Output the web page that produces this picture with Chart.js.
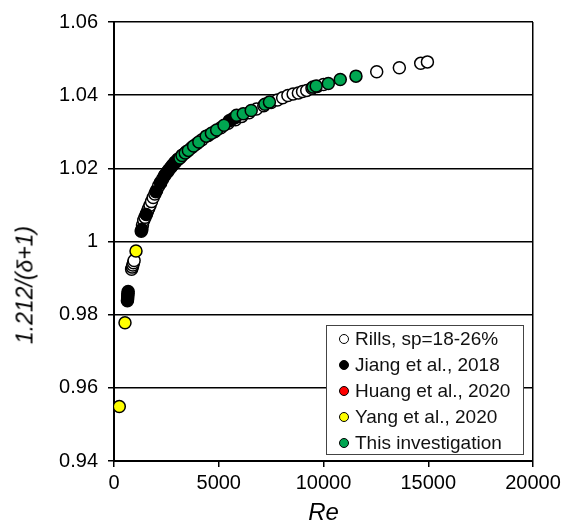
<!DOCTYPE html>
<html>
<head>
<meta charset="utf-8">
<script src="https://cdn.jsdelivr.net/npm/chart.js@4"></script>
<style>
  body { margin: 0; background: #fff; }
  #wrap { position: relative; width: 566px; height: 524px; font-family: "Liberation Sans", Arial, sans-serif; }
  #ytitle {
    position: absolute; left: 25px; top: 285px;
    transform: translate(-50%, -50%) rotate(-90deg);
    font-size: 23px; font-style: italic; white-space: nowrap; color: #000;
  }
  #legend {
    position: absolute; left: 326px; top: 325px; width: 196px; height: 128px;
    border: 1.5px solid #444; background: #fff;
  }
  .row { position: absolute; left: 0; height: 26px; line-height: 26px; font-size: 19px; color: #111; white-space: nowrap; }
  .dot { position: absolute; left: 12px; top: 8px; width: 8px; height: 8px; border: 1.3px solid #000; border-radius: 50%; }
  .lbl { position: absolute; left: 28px; top: 0; }
</style>
</head>
<body>
<div id="wrap">
  <canvas id="chart" width="566" height="524"></canvas>
  <div id="ytitle">1.212/(δ+1)</div>
  <div id="legend"></div>
</div>
<script>
// Data: [Re, 1.212/(δ+1)]
const seriesNames = ['Rills, sp=18-26%', 'Jiang et al., 2018', 'Huang et al., 2020', 'Yang et al., 2020', 'This investigation'];
const seriesColors = ['#ffffff', '#000000', '#ff0000', '#ffff00', '#00a651'];

const rills = [
  [840, 0.9924], [870, 0.9930], [900, 0.9936], [930, 0.9942], [960, 0.9948],
  [1360, 1.0045], [1420, 1.0058], [1480, 1.0066], [1540, 1.0075], [1600, 1.0083],
  [1660, 1.0091], [1720, 1.0099], [1790, 1.0109], [1870, 1.0120], [1950, 1.0130],
  [2040, 1.0141], [2130, 1.0152], [2220, 1.0162], [2320, 1.0171], [2450, 1.0183],
  [2600, 1.0195], [2750, 1.0205], [2900, 1.0216], [3050, 1.0225], [3250, 1.0236],
  [3450, 1.0245], [3700, 1.0256], [3950, 1.0267], [4200, 1.0278], [4500, 1.0290],
  [4800, 1.0300], [5100, 1.0311], [5450, 1.0323], [5800, 1.0333], [6100, 1.0342],
  [6450, 1.0352], [6800, 1.0362], [7150, 1.0371], [7500, 1.0380], [7800, 1.0387],
  [8050, 1.0393], [8300, 1.0399], [8550, 1.0403], [8800, 1.0406], [9000, 1.0410],
  [9200, 1.0413], [9450, 1.0419], [9700, 1.0424], [10000, 1.0429],
  [12540, 1.0464], [13620, 1.0475], [14640, 1.0487], [14960, 1.0491]
];
const jiang = [
  [640, 0.9838], [650, 0.9843], [655, 0.9848], [660, 0.9853], [668, 0.9858], [675, 0.9863],
  [1300, 1.0028], [1330, 1.0033], [1540, 1.0074],
  [2000, 1.0136], [2230, 1.0160], [2400, 1.0179],
  [2550, 1.0190], [2680, 1.0200], [2800, 1.0209], [2930, 1.0217], [3050, 1.0224],
  [5500, 1.0330], [5650, 1.0335], [5800, 1.0339]
];
const huang = [];
const yang = [[253, 0.9549], [525, 0.9778], [1050, 0.9974]];
const thisStudy = [
  [3150, 1.0228], [3250, 1.0235], [3400, 1.0242], [3550, 1.0249], [3800, 1.0261],
  [4050, 1.0272], [4400, 1.0288], [4650, 1.0296], [4900, 1.0305], [5250, 1.0318],
  [5850, 1.0345], [6170, 1.0349], [6550, 1.0358], [7200, 1.0375], [7420, 1.0381],
  [9500, 1.0422], [9650, 1.0425], [10230, 1.0432], [10800, 1.0443], [11550, 1.0452]
];

const xTicks = [0, 5000, 10000, 15000, 20000];
const yTicks = [0.94, 0.96, 0.98, 1, 1.02, 1.04, 1.06];

const allSeries = [rills, jiang, huang, yang, thisStudy];
// drawing order (higher drawn first): rills at bottom, green on top
const drawOrder = [4, 3, 2, 1, 0];

const FONT = '"Liberation Sans", Arial, sans-serif';

const datasets = allSeries.map(function(s, i) {
  return {
    label: seriesNames[i],
    data: s.map(p => ({ x: p[0], y: p[1] })),
    backgroundColor: seriesColors[i],
    borderColor: '#000',
    borderWidth: 1.5,
    pointRadius: 6,
    order: drawOrder[i]
  };
});

new Chart(document.getElementById('chart'), {
  type: 'scatter',
  data: { datasets: datasets },
  options: {
    responsive: false,
    animation: false,
    devicePixelRatio: 1,
    layout: { padding: { top: 20, right: 33, left: 0, bottom: 0 } },
    plugins: { legend: { display: false }, tooltip: { enabled: false } },
    scales: {
      x: {
        type: 'linear', min: 0, max: 20000,
        afterBuildTicks: function(scale) { scale.ticks = xTicks.map(v => ({ value: v })); },
        afterFit: function(scale) { scale.height = 63; },
        ticks: { color: '#000', font: { family: FONT, size: 20 }, padding: 4, maxRotation: 0,
          callback: v => String(v) },
        grid: {
          color: ctx => (ctx.tick && ctx.tick.value === 20000) ? '#000' : 'rgba(0,0,0,0)',
          lineWidth: 1.5, tickColor: '#000', tickLength: 6, tickWidth: 1.5
        },
        border: { color: '#000', width: 2 },
        title: { display: true, text: 'Re', color: '#000', padding: { top: 0, bottom: -4 },
          font: { family: FONT, size: 24, style: 'italic' } }
      },
      y: {
        type: 'linear', min: 0.94, max: 1.06,
        afterBuildTicks: function(scale) { scale.ticks = yTicks.map(v => ({ value: v })); },
        afterFit: function(scale) { scale.width = 114; },
        ticks: { color: '#000', font: { family: FONT, size: 20 }, padding: 10,
          callback: v => String(v) },
        grid: { color: '#000', lineWidth: 1.5, tickColor: '#000', tickLength: 6, tickWidth: 1.5 },
        border: { color: '#000', width: 2 }
      }
    }
  }
});

// legend box drawn as html so it sits inside the plot
const legend = document.getElementById('legend');
seriesNames.forEach(function(name, i) {
  const row = document.createElement('div');
  row.className = 'row';
  row.style.top = (i * 26) + 'px';
  row.innerHTML = '<span class="dot" style="background:' + seriesColors[i] + '"></span><span class="lbl">' + name + '</span>';
  legend.appendChild(row);
});
</script>
</body>
</html>
